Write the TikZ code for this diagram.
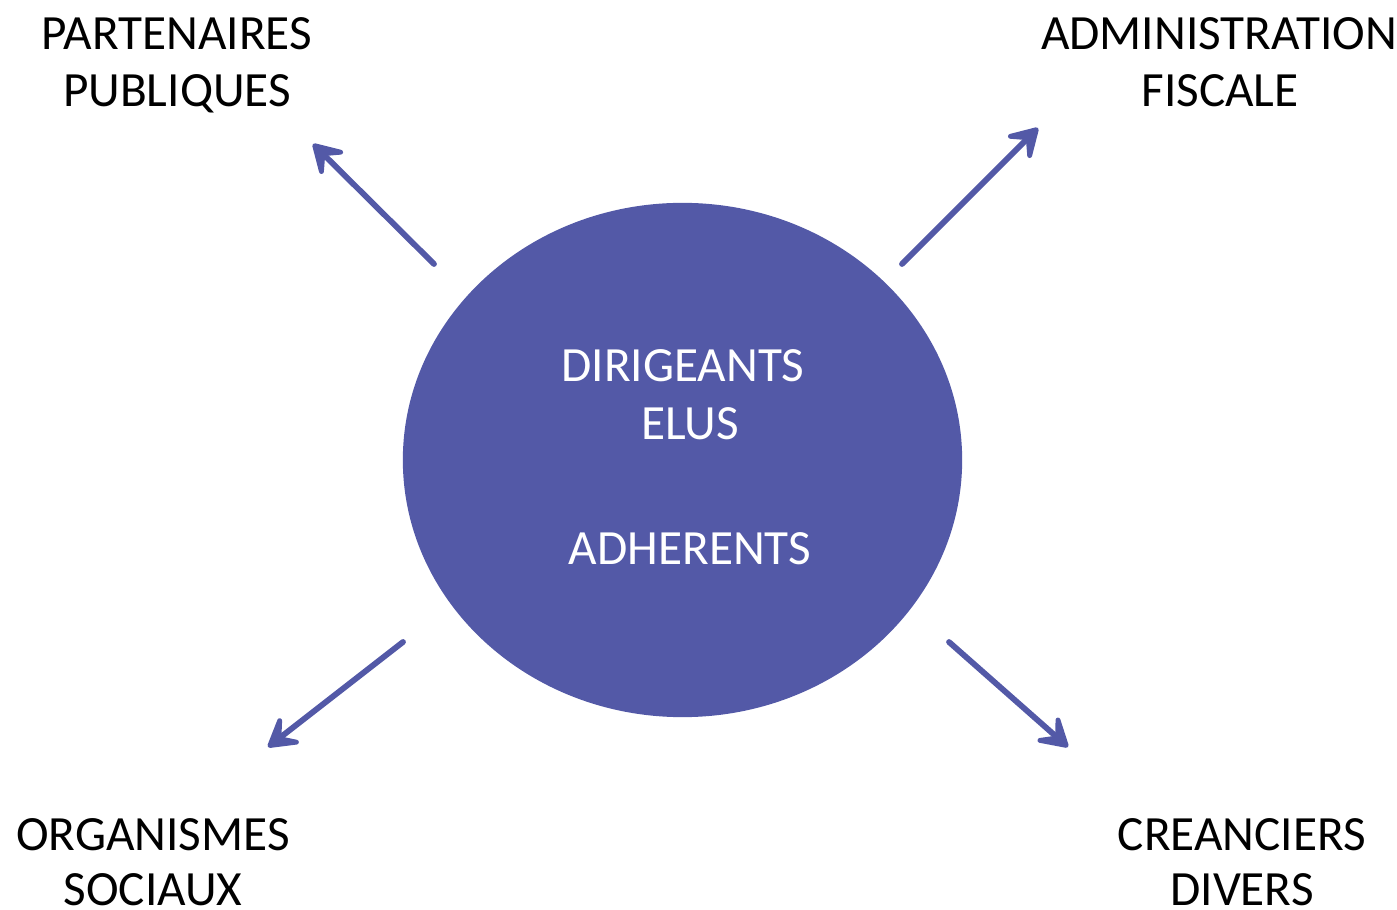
\documentclass[tikz,border=0pt]{standalone}
\usepackage{fontspec}
\setmainfont{Carlito}
\usetikzlibrary{arrows.meta,shapes.geometric}
\definecolor{bluevio}{HTML}{5359A7}
\tikzset{
  lbl/.style={anchor=base, inner sep=0pt, font=\fontsize{14pt}{17pt}\selectfont, text=black},
  inlbl/.style={lbl, text=white},
  link/.style={draw=bluevio, line width=1.65pt, line cap=round,
    -{Stealth[length=11pt, width=13pt, inset=5.5pt, round]}}
}
\begin{document}
\begin{tikzpicture}[x=0.01cm,y=-0.01cm]
\useasboundingbox (0,0) rectangle (1397,910);
\node[ellipse, fill=bluevio, minimum width=5.59cm, minimum height=5.14cm, inner sep=0pt] (core) at (682.5,460) {};
\node[inlbl] (c1) at (683,382) {DIRIGEANTS};
\node[inlbl] (c2) at (690,440) {ELUS};
\node[inlbl] (c3) at (690,565) {ADHERENTS};

\node[lbl] (pp1) at (177,50) {PARTENAIRES};
\node[lbl] (pp2) at (177,107) {PUBLIQUES};
\node[lbl] (af1) at (1219,50) {ADMINISTRATION};
\node[lbl] (af2) at (1220,107) {FISCALE};
\node[lbl] (os1) at (153,850) {ORGANISMES};
\node[lbl] (os2) at (153,905) {SOCIAUX};
\node[lbl] (cd1) at (1242,850) {CREANCIERS};
\node[lbl] (cd2) at (1242,905) {DIVERS};

\coordinate (nwS) at (434,264); \coordinate (nwE) at (313,144);
\coordinate (neS) at (902,264); \coordinate (neE) at (1038,128);
\coordinate (swS) at (403,642); \coordinate (swE) at (268,747);
\coordinate (seS) at (949,642); \coordinate (seE) at (1068,747);
\draw[link] (nwS) -- (nwE);
\draw[link] (neS) -- (neE);
\draw[link] (swS) -- (swE);
\draw[link] (seS) -- (seE);
\end{tikzpicture}
\end{document}
